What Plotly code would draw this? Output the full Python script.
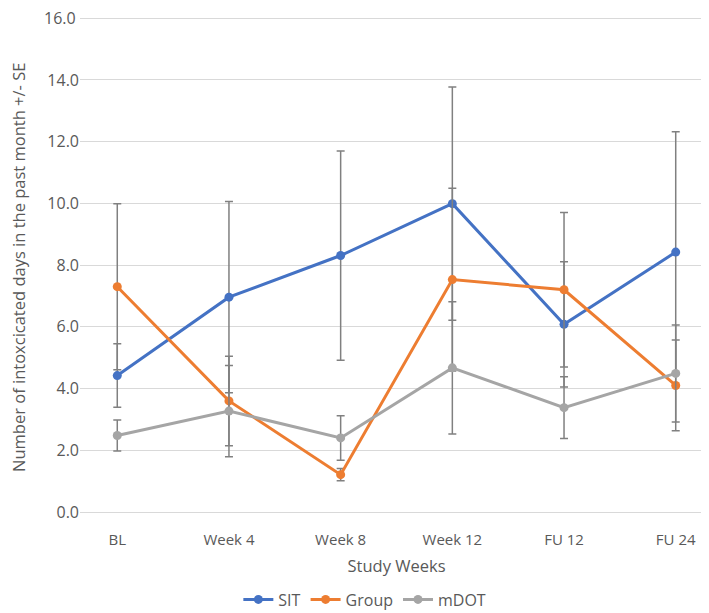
import plotly.graph_objects as go

categories = ["BL", "Week 4", "Week 8", "Week 12", "FU 12", "FU 24"]
sit = [4.42, 6.96, 8.31, 9.99, 6.08, 8.42]
sit_se = [1.03, 3.10, 3.39, 3.78, 2.03, 3.90]
group = [7.30, 3.60, 1.21, 7.53, 7.20, 4.10]
group_se = [2.69, 1.45, 0.20, 2.96, 2.50, 1.47]
mdot = [2.48, 3.27, 2.40, 4.67, 3.38, 4.49]
mdot_se = [0.50, 1.48, 0.72, 2.14, 1.00, 1.57]
y_ticks = [0, 2, 4, 6, 8, 10, 12, 14, 16]

series = [("SIT", sit, sit_se, "#4472C4"),
          ("Group", group, group_se, "#ED7D31"),
          ("mDOT", mdot, mdot_se, "#A5A5A5")]

fig = go.Figure()
for name, vals, se, color in series:
    fig.add_trace(go.Scatter(
        x=categories, y=vals, name=name, mode="lines+markers",
        line=dict(color=color, width=3),
        marker=dict(color=color, size=9),
        error_y=dict(type="data", array=se, visible=True,
                     color="#808080", thickness=1.5, width=4),
    ))

top_tick = y_ticks[-1]
tick_text = [f"{v:.1f}" for v in y_ticks]
tick_text_axis = tick_text[:-1] + [""]

font_family = "'Open Sans', 'Noto Sans', sans-serif"
fig.update_layout(
    width=709, height=613,
    margin=dict(l=72, r=4, t=4, b=101),
    paper_bgcolor="white", plot_bgcolor="white",
    font=dict(family=font_family, color="#595959", size=15),
    showlegend=True,
    legend=dict(orientation="h", x=0.45, xanchor="center", y=-0.175, yanchor="middle",
                font=dict(size=16, color="#595959"), itemwidth=30, tracegroupgap=0),
    xaxis=dict(type="category", showgrid=False, showline=True, linecolor="#d9d9d9",
               automargin=False,
               tickfont=dict(size=15, color="#595959"), ticks="", ticklabelstandoff=14,
               title=dict(text="Study Weeks", font=dict(size=16.5, color="#595959"), standoff=12)),
    yaxis=dict(range=[0, 16.2], tickvals=y_ticks, ticktext=tick_text_axis,
               automargin=False, ticklabeloverflow="allow",
               showgrid=True, gridcolor="#d9d9d9", gridwidth=1,
               zeroline=False, showline=False, ticks="",
               tickfont=dict(size=16, color="#595959")),
    annotations=[
        dict(text="Number of intoxcicated days in the past month +/- SE",
             xref="paper", yref="paper", x=-0.098, y=0.49,
             xanchor="center", yanchor="middle", textangle=-90,
             showarrow=False, font=dict(size=16.5, color="#595959")),
        dict(text=tick_text[-1], xref="paper", yref="y", x=0, y=top_tick,
             xanchor="right", yanchor="middle", xshift=-2, showarrow=False,
             font=dict(size=16, color="#595959")),
    ],
)
fig.write_html("out.html")
